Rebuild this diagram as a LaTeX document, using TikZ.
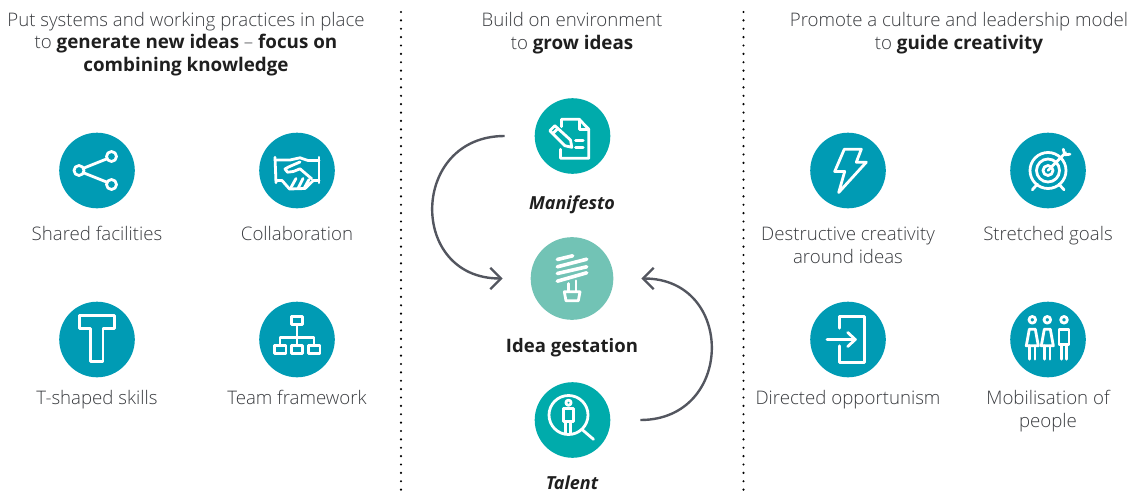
\documentclass[tikz,border=0pt]{standalone}
\usepackage{fontspec}
\setmainfont{Open Sans}[UprightFont=* Light,BoldFont=* Bold,ItalicFont=* Italic,BoldItalicFont=* Bold Italic]
\usetikzlibrary{arrows.meta}
\definecolor{bluedisc}{HTML}{009BB4}
\definecolor{greendisc}{HTML}{00ABAB}
\definecolor{bulbdisc}{HTML}{72C3B5}
\definecolor{bodytext}{HTML}{3A3C40}
\definecolor{darktext}{HTML}{1F1F1F}
\definecolor{arcline}{HTML}{53565F}
\newcommand{\hi}[1]{{\fontsize{14.1}{16.9}\selectfont\bfseries\color{darktext}#1}}
\begin{document}
\begin{tikzpicture}[x=0.75pt,y=-0.75pt,inner sep=0pt,outer sep=0pt,
disc/.style={circle,fill=bluedisc,minimum size=56.7pt},
gdisc/.style={circle,fill=greendisc,minimum size=56.7pt},
lbl/.style={anchor=base,text=bodytext,align=center,font=\fontsize{14}{16.9}\selectfont},
strong/.style={anchor=base,text=darktext,font=\fontsize{13.5}{16.9}\selectfont\bfseries},
icon/.style={draw=white,line width=2.1pt,line join=round,line cap=round},
flow/.style={draw=arcline,line width=1.8pt,-{Straight Barb[length=8pt,width=16pt,line width=1.8pt]}},
divider/.style={draw=black,line width=1.8pt,line cap=round,dash pattern=on 0pt off 6.285pt}]
\useasboundingbox (0,0) rectangle (1141,492);

\draw (97,170.5) node[disc] (share) {};
\draw (297,170.5) node[disc] (collab) {};
\draw (97,339.5) node[disc] (tskill) {};
\draw (297,339.5) node[disc] (team) {};
\draw (572.5,136) node[gdisc] (manifesto) {};
\draw (572,278.5) node[circle,fill=bulbdisc,minimum size=62pt] (bulb) {};
\draw (572.5,420) node[gdisc] (talent) {};
\draw (848,170.5) node[disc] (spark) {};
\draw (1048,170.5) node[disc] (goal) {};
\draw (848,339.5) node[disc] (door) {};
\draw (1048,339.5) node[disc] (people) {};

\draw (186,71.5) node[lbl] (headA) {Put systems and working practices in place\\to \hi{generate new ideas} -- \hi{focus on}\\\hi{combining knowledge}};
\draw (572,49.5) node[lbl] (headB) {Build on environment\\to \hi{grow ideas}};
\draw (959,49.5) node[lbl] (headC) {Promote a culture and leadership model\\to \hi{guide creativity}};

\draw (97,240) node[lbl] (shareT) {Shared facilities};
\draw (297,240) node[lbl] (collabT) {Collaboration};
\draw (97,404) node[lbl] (tskillT) {T-shaped skills};
\draw (297,404) node[lbl] (teamT) {Team framework};
\draw (572,209) node[strong] (manifestoT) {\itshape Manifesto};
\draw (572,352.5) node[strong,font=\fontsize{13.9}{16.9}\selectfont\bfseries] (bulbT) {Idea gestation};
\draw (572,489) node[strong] (talentT) {\itshape Talent};
\draw (848,263) node[lbl] (sparkT) {Destructive creativity\\around ideas};
\draw (1048,240) node[lbl] (goalT) {Stretched goals};
\draw (848,404) node[lbl] (doorT) {Directed opportunism};
\draw (1048,427) node[lbl] (peopleT) {Mobilisation of\\people};

\coordinate (arcAs) at ([xshift=-22.5pt]manifesto.west);
\coordinate (arcAe) at ([xshift=-21pt]bulb.west);
\coordinate (arcBs) at ([xshift=22.5pt]talent.east);
\coordinate (arcBe) at ([xshift=21pt]bulb.east);
\draw[flow] (arcAs) to[out=180,in=180,looseness=1.7] (arcAe);
\draw[flow] (arcBs) to[out=0,in=0,looseness=1.7] (arcBe);

\coordinate (divAt) at (401,12);
\coordinate (divAb) at (401,491);
\coordinate (divBt) at (743.5,12);
\coordinate (divBb) at (743.5,491);
\draw[divider] (divAt) -- (divAb);
\draw[divider] (divBt) -- (divBb);

\begin{scope}[shift={(share)}]
\draw[icon] (-18,0) circle (5);
\draw[icon] (14.5,-14) circle (5);
\draw[icon] (14.5,14) circle (5);
\draw[icon] (-13.5,-2.3) -- (10,-11.7);
\draw[icon] (-13.5,2.3) -- (10,11.7);
\end{scope}

\begin{scope}[shift={(collab)}]
\draw[icon] (-22,-13.3) -- (-21,12.3);
\draw[icon] (22,-13.3) -- (22,12.3);
\draw[icon] (-22,-10.5) -- (-7,-10.5) -- (3,-12.7) -- (11,-10) -- (22,-10);
\draw[icon] (3,-8.5) -- (-8.5,-3.5) -- (-12,-1.5) -- (-9.5,1.7) -- (-3.7,1) -- (3,-1.7) -- (14.7,8.3);
\draw[icon] (-21,10) -- (-15,10) -- (-7.5,18.5) -- (8,18) -- (16.3,10) -- (22,10);
\draw[icon] (-6,17) -- (-1,8);
\draw[icon] (1,18) -- (6,8);
\draw[icon] (7,18) -- (12,9);
\end{scope}

\begin{scope}[shift={(tskill)}]
\draw[icon] (-17.3,-23.7) -- (17.7,-23.7) -- (17.7,-11.3) -- (6,-11.3) -- (6,22) -- (-6.3,22) -- (-6.3,-11.3) -- (-17.3,-11.3) -- cycle;
\end{scope}

\begin{scope}[shift={(team)}]
\draw[icon] (-5.3,-23) rectangle (5.7,-15);
\draw[icon] (-22.7,6.3) rectangle (-11,14.3);
\draw[icon] (-5.3,6.3) rectangle (5.7,14.3);
\draw[icon] (11.7,6.3) rectangle (23,14.3);
\draw[icon] (0,-15) -- (0,6.3);
\draw[icon] (-17,6.3) -- (-17,-2.3) -- (17,-2.3) -- (17,6.3);
\end{scope}

\begin{scope}[shift={(manifesto)}]
\draw[icon] (-11,-9.3) -- (-11,-16.7) -- (6.7,-16.7) -- (16.3,-6.7) -- (16.3,22.3) -- (-12,22.3) -- (-12,13.3);
\draw[icon] (6.7,-16.7) -- (6.7,-6.7) -- (16.3,-6.7);
\draw[icon] (3,4.7) -- (10.7,4.7);
\draw[icon] (3,11.3) -- (10.7,11.3);
\draw[icon] (-22.7,-5.3) -- (-17.7,-10.3) -- (-2,4) -- (-0.7,11.3) -- (-7.7,9.7) -- cycle;
\draw[icon] (-19.7,-2.5) -- (-14.7,-7.5);
\end{scope}

\begin{scope}[shift={(bulb)}]
\draw[icon,line width=2.7pt] (-14.7,-19) -- (0.7,-22.7);
\draw[icon,line width=2.7pt] (-14.7,-11.7) -- (14.7,-19.3);
\draw[icon,line width=2.7pt] (-14.7,-5) -- (14.7,-11.7);
\draw[icon,line width=2.7pt] (-14.7,2.7) -- (14.7,-5.7);
\draw[icon] (-3.7,5) -- (-3.7,13.3);
\draw[icon] (4,2.3) -- (4,13.3);
\draw[icon] (-7.7,13.3) -- (8,13.3) -- (6.3,22.3) -- (-6,22.3) -- cycle;
\end{scope}

\begin{scope}[shift={(talent)}]
\draw[icon] (-4,-5) circle (19.5);
\draw[icon] (9.3,9.3) -- (21,19.3);
\draw[icon] (-4,-17.3) circle (2.6);
\draw[icon] (-9,-11.7) rectangle (1,1.7);
\draw[icon] (-6.7,1.7) -- (-6.7,12.7);
\draw[icon] (-2,1.7) -- (-2,12.7);
\end{scope}

\begin{scope}[shift={(spark)}]
\draw[icon] (-3.7,-21.3) -- (13.3,-21.3) -- (8.3,-8.3) -- (18.3,-8.3) -- (-9.3,22) -- (-3.3,1) -- (-13.3,1) -- cycle;
\end{scope}

\begin{scope}[shift={(goal)}]
\foreach \rad in {18,11.5,5} {
\draw[icon] (0,0) circle (\rad);
}
\draw[icon] (0,0) -- (17.7,-18);
\draw[icon] (15.3,-21.3) -- (16.7,-15.7) -- (22,-16.3);
\draw[icon] (-10.7,13.7) -- (-15.7,19.3);
\draw[icon] (11,13.7) -- (16,19.3);
\end{scope}

\begin{scope}[shift={(door)}]
\draw[icon] (-8.3,-11.3) -- (-8.3,-23) -- (16.3,-23) -- (16.3,22.7) -- (-8.3,22.7) -- (-8.3,6.3);
\draw[icon] (-21,0) -- (7.3,0);
\draw[icon] (-0.3,-7) -- (7.3,0) -- (-0.3,7);
\end{scope}

\begin{scope}[shift={(people)}]
\foreach \cx in {-15.7,-0.7} {
\draw[icon] (\cx,-19.7) circle (3.3);
\draw[icon] (\cx-3,-10.3) -- (\cx+3,-10.3) -- (\cx+6,6.3) -- (\cx-6,6.3) -- cycle;
\draw[icon] (\cx-2.7,6.3) -- (\cx-2.7,19.7);
\draw[icon] (\cx+2.7,6.3) -- (\cx+2.7,19.7);
}
\draw[icon] (16,-19.7) circle (3.3);
\draw[icon] (11,-9.7) rectangle (21,5.3);
\draw[icon] (13.3,5.3) -- (13.3,19.7);
\draw[icon] (18.7,5.3) -- (18.7,19.7);
\end{scope}
\end{tikzpicture}
\end{document}
